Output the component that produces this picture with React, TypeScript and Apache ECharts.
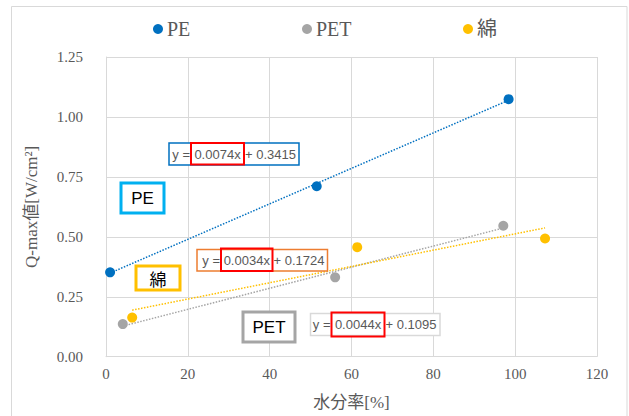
import React, { useEffect, useRef } from "react";
import * as echarts from "echarts";

const seriesNames = ["PE", "PET", "綿"];
const peX = [1, 51.5, 98.4];
const peY = [0.352, 0.711, 1.074];
const petX = [4.1, 56, 97.1];
const petY = [0.136, 0.331, 0.546];
const cottonX = [6.4, 61.4, 107.3];
const cottonY = [0.163, 0.457, 0.493];
// trendline coefficients [slope, intercept] as printed in the chart
const peTrend = [0.0074, 0.3415];
const petTrend = [0.0044, 0.1095];
const cottonTrend = [0.0034, 0.1724];
const xTicks = [0, 20, 40, 60, 80, 100, 120];
const yTicks = [0, 0.25, 0.5, 0.75, 1.0, 1.25];

const colors = ["#0070C0", "#A5A5A5", "#FFC000"];

const pts = (xs: number[], ys: number[]) => xs.map((x, i) => [x, ys[i]]);
const trend = (xs: number[], c: number[]) => {
  const a = Math.min(...xs);
  const b = Math.max(...xs);
  return [
    [a, c[0] * a + c[1]],
    [b, c[0] * b + c[1]],
  ];
};

const SANS = "'Liberation Sans', Arial, sans-serif";
const SERIF = "'Liberation Serif', 'DejaVu Serif', 'Noto Sans CJK JP', serif";
const GRAY = "#595959";

function eqBox(
  x: number, y: number, w: number, h: number, stroke: string,
  rx: number, ry: number, rw: number, rh: number,
  slope: string, intercept: string
) {
  const cy = y + h / 2;
  const font = `13px ${SANS}`;
  return [
    { type: "rect", shape: { x, y, width: w, height: h }, style: { fill: "#fff", stroke, lineWidth: 1.5 }, z: 10 },
    { type: "text", x: rx - 1, y: cy, style: { text: "y =", fill: GRAY, font, align: "right", verticalAlign: "middle" }, z: 11 },
    { type: "text", x: rx + rw / 2, y: cy, style: { text: slope + "x", fill: GRAY, font, align: "center", verticalAlign: "middle" }, z: 11 },
    { type: "text", x: rx + rw + 1, y: cy, style: { text: "+ " + intercept, fill: GRAY, font, align: "left", verticalAlign: "middle" }, z: 11 },
    { type: "rect", shape: { x: rx, y: ry, width: rw, height: rh }, style: { fill: "none", stroke: "#FF0000", lineWidth: 2 }, z: 12 },
  ];
}

function labelBox(x: number, y: number, w: number, h: number, stroke: string, text: string, font: string) {
  return [
    { type: "rect", shape: { x, y, width: w, height: h }, style: { fill: "#fff", stroke, lineWidth: 3 }, z: 10 },
    { type: "text", x: x + w / 2, y: y + h / 2, style: { text, fill: "#000", font, align: "center", verticalAlign: "middle" }, z: 11 },
  ];
}

export default function App() {
  const ref = useRef<HTMLDivElement>(null);
  useEffect(() => {
    if (!ref.current) return;
    const chart = echarts.init(ref.current, null, { renderer: "svg" });
    const legendCommon = {
      top: 19,
      padding: 0,
      itemWidth: 10,
      itemHeight: 10,
      itemGap: 4,
      icon: "circle",
      textStyle: { color: GRAY, fontSize: 20, fontFamily: SERIF, padding: [0, 0, 0, -1] },
    };
    const scatterStyle = (c: string) => ({ color: c, opacity: 1 });
    chart.setOption({
      animation: false,
      backgroundColor: "#fff",
      color: colors,
      legend: [
        { ...legendCommon, left: 153, data: [seriesNames[0]] },
        { ...legendCommon, left: 302, data: [seriesNames[1]] },
        { ...legendCommon, left: 463, data: [seriesNames[2]] },
      ],
      grid: { left: 106, right: 32, top: 57, bottom: 59.3, containLabel: false },
      xAxis: {
        type: "value",
        min: xTicks[0],
        max: xTicks[xTicks.length - 1],
        interval: xTicks[1] - xTicks[0],
        name: "水分率[%]",
        nameLocation: "middle",
        nameGap: 37,
        nameTextStyle: { color: GRAY, fontSize: 17, fontFamily: SERIF },
        axisLine: { show: true, lineStyle: { color: "#D9D9D9", width: 1 } },
        axisTick: { show: false },
        axisLabel: { color: GRAY, fontSize: 15, fontFamily: SERIF, margin: 10 },
        splitLine: { show: true, lineStyle: { color: "#D9D9D9", width: 1 } },
      },
      yAxis: {
        type: "value",
        min: yTicks[0],
        max: yTicks[yTicks.length - 1],
        interval: yTicks[1] - yTicks[0],
        name: "Q-max値[W/cm²]",
        nameLocation: "middle",
        nameGap: 66,
        nameTextStyle: { color: GRAY, fontSize: 17, fontFamily: SERIF },
        axisLine: { show: true, lineStyle: { color: "#D9D9D9", width: 1 } },
        axisTick: { show: false },
        axisLabel: {
          color: GRAY, fontSize: 15, fontFamily: SERIF, margin: 23,
          formatter: (v: number) => v.toFixed(2),
        },
        splitLine: { show: true, lineStyle: { color: "#D9D9D9", width: 1 } },
      },
      series: [
        { name: "PE-trend", type: "line", data: trend(peX, peTrend), showSymbol: false, silent: true, z: 2,
          lineStyle: { color: colors[0], width: 1.5, type: [1.5, 1.5] } },
        { name: "PET-trend", type: "line", data: trend(petX, petTrend), showSymbol: false, silent: true, z: 2,
          lineStyle: { color: colors[1], width: 1.5, type: [1.5, 1.5] } },
        { name: "綿-trend", type: "line", data: trend(cottonX, cottonTrend), showSymbol: false, silent: true, z: 2,
          lineStyle: { color: colors[2], width: 1.5, type: [1.5, 1.5] } },
        { name: seriesNames[0], type: "scatter", data: pts(peX, peY), symbolSize: 10, itemStyle: scatterStyle(colors[0]), z: 3 },
        { name: seriesNames[1], type: "scatter", data: pts(petX, petY), symbolSize: 10, itemStyle: scatterStyle(colors[1]), z: 3 },
        { name: seriesNames[2], type: "scatter", data: pts(cottonX, cottonY), symbolSize: 10, itemStyle: scatterStyle(colors[2]), z: 3 },
      ],
      graphic: [
        { type: "rect", shape: { x: 11.5, y: 6.5, width: 615.5, height: 420 }, style: { fill: "none", stroke: "#D9D9D9", lineWidth: 1 }, z: 0, silent: true },
        ...eqBox(169, 143, 130, 22, "#0070C0", 191, 143, 53, 21.5, "0.0074", "0.3415"),
        ...labelBox(121, 183, 43, 30, "#00B0F0", "PE", `17px ${SANS}`),
        ...eqBox(197, 249.5, 130.5, 21.5, "#ED7D31", 221, 248.5, 51.5, 22.5, "0.0034", "0.1724"),
        ...labelBox(136, 266, 44, 24, "#FFC000", "綿", `17px 'Noto Sans CJK JP', sans-serif`),
        ...labelBox(243, 312, 52, 30, "#A5A5A5", "PET", `17px ${SANS}`),
        ...eqBox(310.5, 313.5, 129.5, 22, "#D9D9D9", 331.5, 312.5, 53, 24, "0.0044", "0.1095"),
      ],
    });
    return () => chart.dispose();
  }, []);
  return (
    <div
      ref={ref}
      style={{ position: "fixed", left: 0, top: 0, width: 629, height: 416, background: "#fff" }}
    />
  );
}
